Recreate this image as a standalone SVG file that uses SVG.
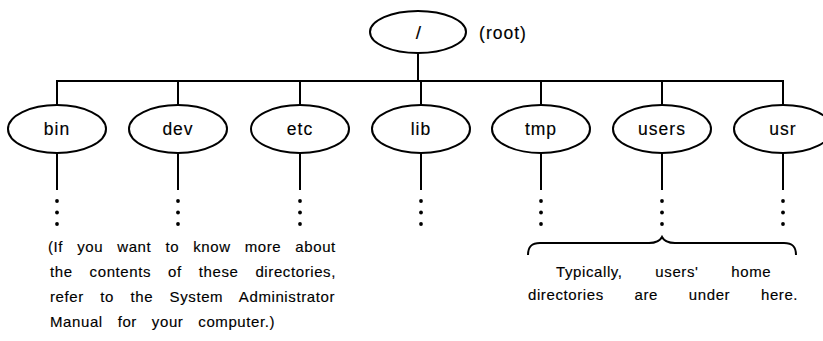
<svg xmlns="http://www.w3.org/2000/svg" width="823" height="341" viewBox="0 0 823 341">
  <style>
    .node { fill: #fff; stroke: #000; stroke-width: 2; }
    .wire { fill: none; stroke: #000; stroke-width: 2; }
    .label { font-family: "Liberation Sans", Arial, sans-serif; font-size: 17.5px; fill: #000; stroke: #000; stroke-width: 0.15; text-anchor: middle; letter-spacing: 1px; }
    .note { font-family: "Liberation Sans", Arial, sans-serif; font-size: 15px; fill: #000; stroke: #000; stroke-width: 0.15; letter-spacing: 0.6px; }
    .dot { fill: #000; }
  </style>
  <defs>
    <g id="more">
      <circle class="dot" cx="0" cy="201" r="1.9"/>
      <circle class="dot" cx="0" cy="212.5" r="1.9"/>
      <circle class="dot" cx="0" cy="224" r="1.9"/>
    </g>
  </defs>

  <!-- tree connectors -->
  <g id="connectors">
    <line class="wire" x1="418" y1="53" x2="418" y2="81"/>
    <line class="wire" x1="56" y1="81" x2="784" y2="81"/>
    <path class="wire" d="M57,81V105 M178,81V105 M300,81V105 M421,81V105 M541,81V105 M662,81V105 M783,81V105"/>
    <path class="wire" d="M57,153V190 M178,153V190 M300,153V190 M421,153V190 M541,153V190 M662,153V190 M783,153V190"/>
    <use href="#more" x="57"/>
    <use href="#more" x="178"/>
    <use href="#more" x="300"/>
    <use href="#more" x="421"/>
    <use href="#more" x="541"/>
    <use href="#more" x="662"/>
    <use href="#more" x="783"/>
  </g>

  <g id="root">
    <ellipse class="node" cx="418" cy="32" rx="48" ry="21"/>
    <text class="label" x="419" y="39" style="font-size:19px">/</text>
    <text class="label" x="503" y="39">(root)</text>
  </g>
  <g id="bin">
    <ellipse class="node" cx="57" cy="129" rx="49" ry="24"/>
    <text class="label" x="57" y="135">bin</text>
  </g>
  <g id="dev">
    <ellipse class="node" cx="178" cy="129" rx="49" ry="24"/>
    <text class="label" x="178" y="135">dev</text>
  </g>
  <g id="etc">
    <ellipse class="node" cx="300" cy="129" rx="49" ry="24"/>
    <text class="label" x="300" y="135">etc</text>
  </g>
  <g id="lib">
    <ellipse class="node" cx="421" cy="129" rx="49" ry="24"/>
    <text class="label" x="421" y="135">lib</text>
  </g>
  <g id="tmp">
    <ellipse class="node" cx="541" cy="129" rx="49" ry="24"/>
    <text class="label" x="541" y="135">tmp</text>
  </g>
  <g id="users">
    <ellipse class="node" cx="662" cy="129" rx="49" ry="24"/>
    <text class="label" x="662" y="135">users</text>
  </g>
  <g id="usr">
    <ellipse class="node" cx="783" cy="129" rx="49" ry="24"/>
    <text class="label" x="783" y="135">usr</text>
  </g>

  <!-- explanatory note under the system directories -->
  <g id="system-note">
    <text class="note" x="48" y="252" word-spacing="9.3">(If you want to know more about</text>
    <text class="note" x="50" y="277" word-spacing="12.2">the contents of these directories,</text>
    <text class="note" x="50" y="302" word-spacing="11.7">refer to the System Administrator</text>
    <text class="note" x="50" y="327" word-spacing="10.1">Manual for your computer.)</text>
  </g>

  <!-- brace grouping tmp, users and usr -->
  <g id="home-note">
    <path class="wire" d="M528,255 C528,247 531,243 540,243 L649,243 C657,243 660,241 662,237 C664,241 667,243 675,243 L784,243 C793,243 796,247 796,255"/>
    <text class="note" x="556" y="277" word-spacing="28">Typically, users' home</text>
    <text class="note" x="528" y="300" word-spacing="26">directories are under here.</text>
  </g>
</svg>
